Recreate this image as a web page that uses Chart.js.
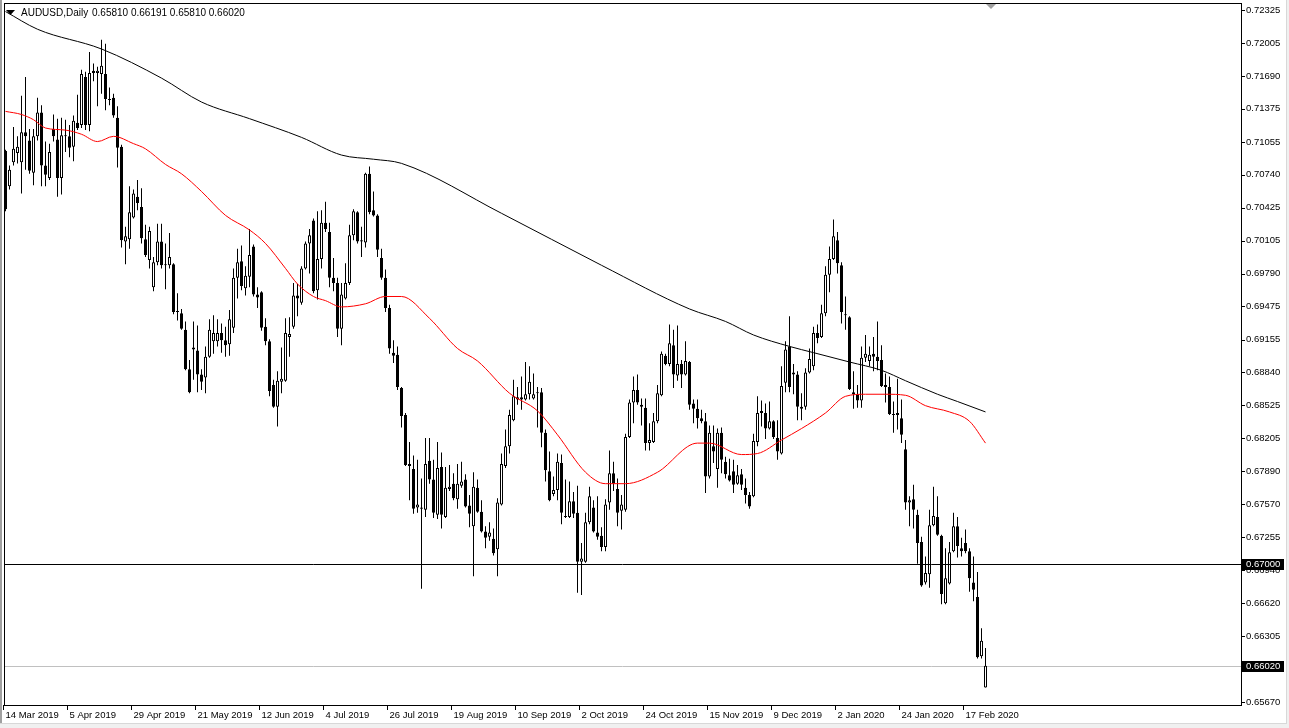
<!DOCTYPE html>
<html>
<head>
<meta charset="utf-8">
<title>AUDUSD,Daily</title>
<script src="https://cdn.jsdelivr.net/npm/chart.js@4.4.1/dist/chart.umd.min.js"></script>
<style>
  html, body { margin: 0; padding: 0; background: #fff; }
  #wrap { width: 1289px; height: 728px; position: relative; }
</style>
</head>
<body>
<div id="wrap"><canvas id="chart"></canvas></div>
<script>
const symbol = "AUDUSD,Daily";
const lastBar = [0.65810, 0.66191, 0.65810, 0.66020]; // O H L C shown in the header

// daily candles, 14 Mar 2019 .. 24 Feb 2020
const open = [
  0.7097,0.7063,0.7086,0.7095,0.7086,0.7115,0.7107,0.7076,0.7111,0.7134,
  0.7083,0.7071,0.7118,0.7108,0.7071,0.7112,0.7111,0.7101,0.7124,0.7122,
  0.7168,0.7122,0.7174,0.7172,0.7171,0.7171,0.7147,0.7148,0.7129,0.7101,
  0.7010,0.7012,0.7033,0.7053,0.7043,0.7012,0.6992,0.6966,0.6990,0.7010,
  0.6988,0.6987,0.6988,0.6943,0.6941,0.6925,0.6887,0.6908,0.6905,0.6882,
  0.6879,0.6899,0.6914,0.6914,0.6922,0.6915,0.6911,0.6927,0.6975,0.6991,
  0.6965,0.6976,0.7005,0.6959,0.6961,0.6928,0.6914,0.6872,0.6851,0.6875,
  0.6876,0.6918,0.6928,0.6958,0.6951,0.6984,0.7008,0.7030,0.6963,0.6993,
  0.7028,0.7019,0.6975,0.6970,0.6926,0.6955,0.6970,0.7016,0.7038,0.7011,
  0.7009,0.7075,0.7040,0.7035,0.6994,0.6975,0.6946,0.6903,0.6901,0.6869,
  0.6843,0.6796,0.6791,0.6754,0.6754,0.6752,0.6799,0.6781,0.6747,0.6793,
  0.6745,0.6772,0.6777,0.6762,0.6775,0.6781,0.6756,0.6736,0.6773,0.6750,
  0.6731,0.6726,0.6724,0.6714,0.6757,0.6794,0.6813,0.6838,0.6858,0.6860,
  0.6858,0.6863,0.6859,0.6865,0.6865,0.6826,0.6789,0.6767,0.6771,0.6797,
  0.6745,0.6745,0.6760,0.6749,0.6702,0.6702,0.6740,0.6754,0.6730,0.6727,
  0.6716,0.6759,0.6787,0.6772,0.6751,0.6752,0.6822,0.6855,0.6867,0.6853,
  0.6850,0.6816,0.6817,0.6837,0.6862,0.6900,0.6892,0.6910,0.6881,0.6892,
  0.6882,0.6894,0.6854,0.6849,0.6840,0.6837,0.6784,0.6813,0.6791,0.6826,
  0.6798,0.6785,0.6789,0.6777,0.6786,0.6773,0.6766,0.6765,0.6817,0.6845,
  0.6845,0.6830,0.6837,0.6821,0.6806,0.6874,0.6909,0.6884,0.6882,0.6849,
  0.6851,0.6884,0.6890,0.6922,0.6918,0.6941,0.6978,0.6993,0.7011,0.6987,
  0.6940,0.6937,0.6865,0.6863,0.6857,0.6898,0.6895,0.6902,0.6899,0.6896,
  0.6872,0.6870,0.6844,0.6843,0.6840,0.6810,0.6759,0.6762,0.6747,0.6721,
  0.6682,0.6690,0.6737,0.6745,0.6727,0.6662,0.6681,0.6712,0.6736,0.6715,
  0.6720,0.6712,0.6682,0.6668,0.6611,0.65810
];
const high = [
  0.7098,0.7083,0.7120,0.7111,0.7150,0.7168,0.7118,0.7118,0.7148,0.7141,
  0.7106,0.7104,0.7132,0.7128,0.7129,0.7127,0.7122,0.7131,0.7151,0.7175,
  0.7173,0.7192,0.7181,0.7178,0.7204,0.7200,0.7158,0.7152,0.7140,0.7103,
  0.7024,0.7063,0.7060,0.7069,0.7061,0.7026,0.7024,0.6995,0.7027,0.7027,
  0.7008,0.7018,0.6989,0.6960,0.6945,0.6933,0.6896,0.6933,0.6929,0.6887,
  0.6909,0.6935,0.6939,0.6935,0.6931,0.6928,0.6944,0.6984,0.7003,0.7006,
  0.6986,0.7022,0.7007,0.6966,0.6962,0.6936,0.6916,0.6877,0.6885,0.6908,
  0.6936,0.6937,0.6970,0.6969,0.6986,0.7010,0.7022,0.7032,0.7039,0.7040,
  0.7048,0.7028,0.6994,0.6975,0.6970,0.6989,0.7026,0.7041,0.7039,0.7024,
  0.7076,0.7082,0.7058,0.7036,0.7003,0.6983,0.6949,0.6915,0.6909,0.6870,
  0.6845,0.6817,0.6804,0.6800,0.6782,0.6821,0.6821,0.6800,0.6817,0.6807,
  0.6793,0.6795,0.6787,0.6796,0.6798,0.6786,0.6766,0.6788,0.6781,0.6761,
  0.6736,0.6740,0.6734,0.6763,0.6806,0.6829,0.6848,0.6877,0.6870,0.6880,
  0.6894,0.6890,0.6883,0.6870,0.6869,0.6829,0.6808,0.6784,0.6806,0.6805,
  0.6781,0.6779,0.6769,0.6775,0.6720,0.6749,0.6774,0.6761,0.6765,0.6735,
  0.6762,0.6809,0.6798,0.6782,0.6766,0.6825,0.6858,0.6880,0.6882,0.6859,
  0.6859,0.6835,0.6845,0.6872,0.6904,0.6902,0.6930,0.6925,0.6929,0.6896,
  0.6914,0.6895,0.6858,0.6858,0.6848,0.6845,0.6833,0.6833,0.6830,0.6831,
  0.6803,0.6801,0.6800,0.6795,0.6791,0.6782,0.6769,0.6825,0.6861,0.6857,
  0.6854,0.6856,0.6838,0.6838,0.6890,0.6914,0.6938,0.6892,0.6885,0.6864,
  0.6888,0.6907,0.6928,0.6930,0.6949,0.6986,0.7005,0.7031,0.7019,0.6990,
  0.6957,0.6938,0.6885,0.6872,0.6909,0.6920,0.6909,0.6918,0.6933,0.6910,
  0.6883,0.6880,0.6856,0.6878,0.6858,0.6819,0.6765,0.6776,0.6752,0.6726,
  0.6707,0.6752,0.6774,0.6765,0.6728,0.6715,0.6721,0.6749,0.6745,0.6725,
  0.6733,0.6715,0.6707,0.6692,0.6638,0.66191
];
const low = [
  0.7039,0.7060,0.7083,0.7085,0.7056,0.7079,0.7075,0.7064,0.7107,0.7063,
  0.7063,0.7069,0.7106,0.7053,0.7055,0.7096,0.7091,0.7087,0.7117,0.7119,
  0.7117,0.7116,0.7164,0.7140,0.7152,0.7136,0.7141,0.7129,0.7081,0.7004,
  0.6988,0.7003,0.7032,0.7040,0.7008,0.6995,0.6984,0.6962,0.6987,0.6984,
  0.6964,0.6984,0.6940,0.6934,0.6925,0.6886,0.6864,0.6877,0.6865,0.6867,
  0.6864,0.6898,0.6902,0.6909,0.6903,0.6899,0.6900,0.6922,0.6955,0.6963,
  0.6958,0.6966,0.6957,0.6946,0.6924,0.6910,0.6861,0.6850,0.6832,0.6864,
  0.6875,0.6899,0.6926,0.6938,0.6949,0.6983,0.6979,0.6960,0.6954,0.6984,
  0.7019,0.6966,0.6962,0.6918,0.6910,0.6954,0.6968,0.7011,0.7008,0.6995,
  0.7004,0.7036,0.7034,0.6995,0.6973,0.6942,0.6902,0.6893,0.6867,0.6831,
  0.6794,0.6761,0.6748,0.6749,0.6676,0.6745,0.6777,0.6744,0.6743,0.6734,
  0.6744,0.6770,0.6761,0.6753,0.6773,0.6754,0.6735,0.6688,0.6749,0.6730,
  0.6715,0.6722,0.6708,0.6688,0.6756,0.6792,0.6806,0.6837,0.6853,0.6848,
  0.6857,0.6858,0.6858,0.6831,0.6812,0.6779,0.6760,0.6765,0.6761,0.6738,
  0.6744,0.6744,0.6744,0.6672,0.6670,0.6701,0.6738,0.6730,0.6723,0.6712,
  0.6712,0.6752,0.6770,0.6736,0.6733,0.6750,0.6821,0.6835,0.6853,0.6833,
  0.6809,0.6809,0.6816,0.6835,0.6861,0.6891,0.6890,0.6869,0.6876,0.6869,
  0.6881,0.6848,0.6835,0.6830,0.6835,0.6768,0.6782,0.6797,0.6773,0.6787,
  0.6782,0.6779,0.6768,0.6776,0.6771,0.6758,0.6753,0.6764,0.6813,0.6832,
  0.6820,0.6829,0.6820,0.6800,0.6805,0.6865,0.6865,0.6863,0.6838,0.6838,
  0.6848,0.6883,0.6886,0.6912,0.6917,0.6938,0.6961,0.6992,0.6979,0.6931,
  0.6925,0.6867,0.6849,0.6850,0.6850,0.6894,0.6890,0.6885,0.6886,0.6870,
  0.6855,0.6843,0.6826,0.6829,0.6816,0.6752,0.6736,0.6734,0.6700,0.6678,
  0.6680,0.6677,0.6736,0.6727,0.6661,0.6661,0.6680,0.6711,0.6706,0.6707,
  0.6710,0.6673,0.6664,0.6609,0.6609,0.65810
];
const close = [
  0.7041,0.7079,0.7099,0.7101,0.7115,0.7111,0.7078,0.7111,0.7134,0.7083,
  0.7074,0.7096,0.7111,0.7071,0.7112,0.7111,0.7100,0.7126,0.7119,0.7171,
  0.7122,0.7172,0.7172,0.7174,0.7179,0.7147,0.7146,0.7131,0.7100,0.7011,
  0.7015,0.7038,0.7056,0.7047,0.7013,0.6997,0.7020,0.6990,0.7010,0.6987,
  0.6987,0.6995,0.6942,0.6942,0.6926,0.6887,0.6865,0.6906,0.6882,0.6875,
  0.6899,0.6925,0.6922,0.6922,0.6915,0.6910,0.6935,0.6975,0.6990,0.6967,
  0.6977,0.6997,0.6959,0.6956,0.6927,0.6914,0.6866,0.6851,0.6876,0.6878,
  0.6922,0.6921,0.6958,0.6955,0.6984,0.7008,0.7016,0.6962,0.6993,0.7028,
  0.7022,0.6975,0.6970,0.6926,0.6959,0.6970,0.7016,0.7039,0.7010,0.7010,
  0.7075,0.7038,0.7035,0.7002,0.6975,0.6946,0.6907,0.6900,0.6870,0.6842,
  0.6795,0.6794,0.6753,0.6757,0.6753,0.6796,0.6781,0.6749,0.6792,0.6747,
  0.6773,0.6774,0.6763,0.6777,0.6779,0.6755,0.6748,0.6774,0.6750,0.6731,
  0.6725,0.6730,0.6710,0.6759,0.6796,0.6813,0.6843,0.6861,0.6860,0.6858,
  0.6863,0.6875,0.6863,0.6864,0.6826,0.6790,0.6761,0.6771,0.6798,0.6749,
  0.6746,0.6760,0.6748,0.6702,0.6705,0.6740,0.6765,0.6731,0.6726,0.6716,
  0.6757,0.6787,0.6777,0.6749,0.6757,0.6822,0.6855,0.6867,0.6855,0.6851,
  0.6816,0.6819,0.6837,0.6864,0.6902,0.6892,0.6912,0.6882,0.6892,0.6882,
  0.6895,0.6853,0.6849,0.6840,0.6837,0.6784,0.6826,0.6808,0.6826,0.6800,
  0.6786,0.6780,0.6776,0.6785,0.6776,0.6766,0.6755,0.6818,0.6845,0.6847,
  0.6830,0.6837,0.6822,0.6808,0.6871,0.6906,0.6870,0.6882,0.6851,0.6851,
  0.6884,0.6897,0.6922,0.6917,0.6941,0.6978,0.6993,0.7015,0.6989,0.6942,
  0.6939,0.6868,0.6863,0.6857,0.6898,0.6902,0.6901,0.6899,0.6895,0.6871,
  0.6870,0.6844,0.6843,0.6845,0.6824,0.6759,0.6761,0.6752,0.6720,0.6679,
  0.6691,0.6737,0.6746,0.6728,0.6671,0.6686,0.6711,0.6736,0.6717,0.6712,
  0.6712,0.6686,0.6675,0.6610,0.6626,0.66020
];

// moving averages at a few bars (bar index, price)
const ma200Idx = [0, 8, 24, 39, 49, 61, 74, 84, 92, 99, 124, 149, 171, 180, 187, 196, 202, 211, 219, 225, 233, 238, 245];
const ma200Val = [0.7231, 0.7214, 0.7195, 0.7167, 0.7144, 0.7128, 0.7110, 0.7093, 0.7089, 0.7085, 0.7037, 0.6987,
  0.6945, 0.6933, 0.6920, 0.6909, 0.6903, 0.6894, 0.6886, 0.6876, 0.6863, 0.6856, 0.6846];
const ma50Idx = [0, 4, 7, 10, 15, 19, 23, 27, 32, 35, 40, 44, 49, 55, 61, 65, 70, 73, 77, 80, 84, 90, 95, 99,
  106, 113, 118, 126, 133, 138, 145, 150, 155, 163, 173, 176, 184, 188, 194, 199, 205, 210, 215, 220, 225, 230, 236, 241, 245];
const ma50Val = [0.7135, 0.7132, 0.7127, 0.7119, 0.7117, 0.7113, 0.7106, 0.7111, 0.7104, 0.7099, 0.7084, 0.7075,
  0.7058, 0.7035, 0.7021, 0.7008, 0.6984, 0.6969, 0.6957, 0.6953, 0.6947, 0.6950, 0.6957, 0.6957, 0.6936, 0.6907,
  0.6895, 0.6864, 0.6847, 0.6824, 0.6788, 0.6777, 0.6777, 0.6788, 0.6816, 0.6816, 0.6805, 0.6806, 0.6819, 0.6830,
  0.6845, 0.6861, 0.6863, 0.6863, 0.6862, 0.6852, 0.6846, 0.6837, 0.6816];

const tickLabels = ["14 Mar 2019", "5 Apr 2019", "29 Apr 2019", "21 May 2019", "12 Jun 2019", "4 Jul 2019",
  "26 Jul 2019", "19 Aug 2019", "10 Sep 2019", "2 Oct 2019", "24 Oct 2019", "15 Nov 2019", "9 Dec 2019",
  "2 Jan 2020", "24 Jan 2020", "17 Feb 2020"];
const tickEvery = 16;

const yTicks = [0.72325, 0.72005, 0.71690, 0.71375, 0.71055, 0.70740, 0.70425, 0.70105, 0.69790, 0.69475,
  0.69155, 0.68840, 0.68525, 0.68205, 0.67890, 0.67570, 0.67255, 0.66940, 0.66620, 0.66305, 0.65985, 0.65670];

const levelPrice = 0.67;    // horizontal line
const bidPrice = 0.66020;   // last price line
const yMin = 0.656513, yMax = 0.723827;
const emptyBars = 63;       // blank space right of the last candle

const nBars = open.length + emptyBars;
const categories = Array.from({ length: nBars }, (_, i) => i);

const wicks = low.map((l, i) => [l, high[i]]);
const bodies = open.map((o, i) => [Math.min(o, close[i]), Math.max(o, close[i])]);
const bodyFill = open.map((o, i) => close[i] >= o ? "#ffffff" : "#000000");

function sparse(idx, vals) {
  const out = new Array(open.length).fill(null);
  idx.forEach((k, j) => { out[k] = vals[j]; });
  return out;
}

const labelFont = { family: "'Liberation Sans', Arial, sans-serif", size: 9.5 };

const mtDecor = {
  id: "mtDecor",
  beforeDraw(chart) {
    const ctx = chart.ctx;
    ctx.save();
    ctx.fillStyle = "#ffffff";
    ctx.fillRect(0, 0, chart.width, chart.height);
    // window edges
    ctx.fillStyle = "#f0f0f0";
    ctx.fillRect(0, 724, chart.width, 4);
    ctx.fillRect(1287, 0, 2, chart.height);
    ctx.fillStyle = "#a0a0a0";
    ctx.fillRect(0, 0, 2, 724);
    ctx.fillStyle = "#d8d8d8";
    ctx.fillRect(0, 723, 1287, 1);
    ctx.fillRect(1286, 0, 1, 724);
    ctx.restore();
  },
  beforeDatasetsDraw(chart) {
    const ctx = chart.ctx;
    const y = Math.round(chart.scales.y.getPixelForValue(bidPrice)) + 0.5;
    ctx.save();
    ctx.strokeStyle = "#c0c0c0";
    ctx.lineWidth = 1;
    ctx.beginPath();
    ctx.moveTo(4, y);
    ctx.lineTo(1241, y);
    ctx.stroke();
    ctx.restore();
  },
  afterDatasetsDraw(chart) {
    const ctx = chart.ctx;
    const y = Math.round(chart.scales.y.getPixelForValue(levelPrice)) + 0.5;
    ctx.save();
    ctx.strokeStyle = "#000";
    ctx.lineWidth = 1;
    ctx.beginPath();
    ctx.moveTo(4, y);
    ctx.lineTo(1241, y);
    ctx.stroke();
    ctx.restore();
  },
  afterDraw(chart) {
    const ctx = chart.ctx;
    const ys = chart.scales.y, xs = chart.scales.x;
    ctx.save();
    ctx.strokeStyle = "#000";
    ctx.lineWidth = 1;
    ctx.strokeRect(4.5, 3.5, 1237, 702);

    // tick marks
    ctx.beginPath();
    yTicks.forEach(v => {
      const y = Math.round(ys.getPixelForValue(v)) + 0.5;
      ctx.moveTo(1241, y); ctx.lineTo(1245, y);
    });
    tickLabels.forEach((_, k) => {
      const x = Math.floor(xs.getPixelForValue(k * tickEvery)) - 1.5;
      ctx.moveTo(x, 705); ctx.lineTo(x, 710);
    });
    ctx.stroke();

    // price boxes on the axis
    ctx.font = "9.5px 'Liberation Sans', Arial, sans-serif";
    ctx.textBaseline = "middle";
    ctx.textAlign = "left";
    [levelPrice, bidPrice].forEach(p => {
      const y = Math.round(ys.getPixelForValue(p));
      ctx.fillStyle = "#000";
      ctx.fillRect(1242, y - 5, 42, 11);
      ctx.fillStyle = "#fff";
      ctx.fillText(p.toFixed(5), 1246, y + 0.5);
    });

    // header
    ctx.fillStyle = "#000";
    ctx.beginPath();
    ctx.moveTo(6, 10); ctx.lineTo(15, 10); ctx.lineTo(10.5, 15); ctx.closePath();
    ctx.fill();
    ctx.font = "10px 'Liberation Sans', Arial, sans-serif";
    ctx.fillText(symbol, 21, 13);
    ctx.fillText(lastBar.map(v => v.toFixed(5)).join(" "), 92, 13);

    // chart shift marker
    ctx.fillStyle = "#a0a0a0";
    ctx.beginPath();
    ctx.moveTo(986, 4); ctx.lineTo(996, 4); ctx.lineTo(991, 9); ctx.closePath();
    ctx.fill();
    ctx.restore();
  }
};

new Chart(document.getElementById("chart"), {
  type: "bar",
  data: {
    labels: categories,
    datasets: [
      {
        type: "line", label: "MA200", data: sparse(ma200Idx, ma200Val),
        borderColor: "#000000", borderWidth: 1, pointRadius: 0, spanGaps: true,
        cubicInterpolationMode: "monotone", order: 0
      },
      {
        type: "line", label: "MA50", data: sparse(ma50Idx, ma50Val),
        borderColor: "#ff0000", borderWidth: 1, pointRadius: 0, spanGaps: true,
        cubicInterpolationMode: "monotone", order: 1
      },
      {
        label: "body", data: bodies, backgroundColor: bodyFill, borderColor: "#000000",
        borderWidth: 1, borderSkipped: false, barThickness: 3, minBarLength: 1,
        grouped: false, inflateAmount: 0, order: 2
      },
      {
        label: "wick", data: wicks, backgroundColor: "#000000", borderWidth: 0,
        barThickness: 1, grouped: false, inflateAmount: 0, order: 3
      }
    ]
  },
  options: {
    responsive: true,
    maintainAspectRatio: false,
    animation: false,
    layout: { padding: { left: 3.5, top: 4, right: 0, bottom: 0 } },
    plugins: { legend: { display: false }, tooltip: { enabled: false } },
    scales: {
      x: {
        type: "category",
        offset: true,
        grid: { display: false, drawTicks: false },
        border: { display: false },
        afterBuildTicks: s => { s.ticks = tickLabels.map((_, k) => ({ value: k * tickEvery })); },
        ticks: {
          autoSkip: false, maxRotation: 0, minRotation: 0, align: "start", padding: 6,
          color: "#000", font: labelFont,
          callback: (v, k) => tickLabels[k]
        },
        afterFit: s => { s.height = 24; s.paddingLeft = 0; s.paddingRight = 0; }
      },
      y: {
        position: "right",
        min: yMin, max: yMax, bounds: "data",
        grid: { display: false, drawTicks: false },
        border: { display: false },
        afterBuildTicks: s => { s.ticks = yTicks.map(v => ({ value: v })); },
        ticks: { padding: 6.5, color: "#000", font: labelFont, callback: v => v.toFixed(5) },
        afterFit: s => { s.width = 49.5; s.paddingTop = 0; s.paddingBottom = 0; }
      }
    }
  },
  plugins: [mtDecor]
});
</script>
</body>
</html>
